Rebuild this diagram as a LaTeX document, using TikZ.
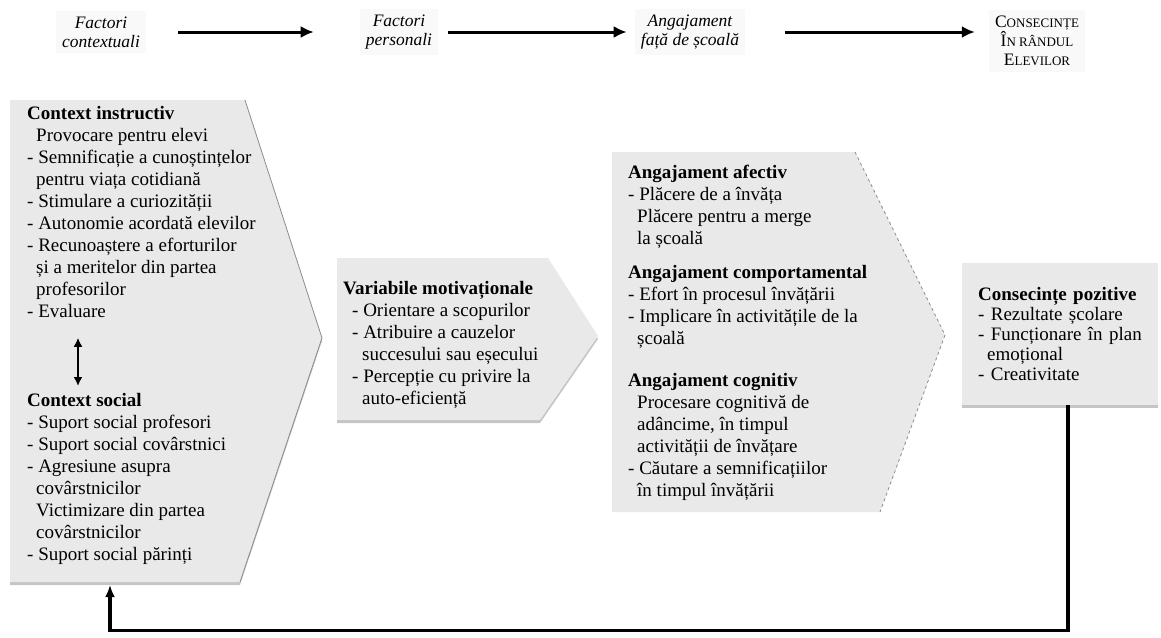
\documentclass[tikz,border=0pt]{standalone}
\usepackage{fontspec}
\setmainfont{Liberation Serif}
\usetikzlibrary{arrows.meta,positioning,shadows,calc}
\definecolor{panelgray}{RGB}{233,233,233}
\definecolor{edgegray}{RGB}{140,140,140}
\definecolor{labelgray}{RGB}{249,249,249}
\newcommand{\ind}{\hspace*{9pt}}
\newcommand{\capsc}[2]{#1{\fontsize{13}{15}\selectfont #2}}

\begin{document}
\begin{tikzpicture}[x=1pt, y=-1pt,
  panel/.style={fill=panelgray, drop shadow={shadow xshift=0pt, shadow yshift=-3pt, fill=edgegray}},
  boxtext/.style={align=left, anchor=north west, inner sep=0pt, font=\fontsize{19}{22}\selectfont},
  headlabel/.style={align=center, fill=labelgray, inner sep=6pt, font=\fontsize{17.5}{19}\selectfont\itshape},
  flow/.style={line width=3pt, -{Latex[length=13pt,width=12pt]}},
  twoway/.style={line width=2pt, {Latex[length=9pt,width=9pt]}-{Latex[length=9pt,width=9pt]}},
  feedback/.style={line width=3.5pt, -{Latex[length=12pt,width=10pt]}}]

\useasboundingbox (0,0) rectangle (1161,637);

% HEADINGS

\node[headlabel] (factctx) at (101,32) {Factori\\contextuali};
\node[headlabel] (factpers) at (399,32) {Factori\\personali};
\node[headlabel] (angaj) at (690,32) {Angajament\\față de școală};
\node[headlabel, font=\fontsize{17.5}{19}\selectfont] (conseq) at (1037,41) {\capsc{C}{ONSECINȚE}\\\capsc{Î}{N RÂNDUL}\\\capsc{E}{LEVILOR}};

\draw[flow, shorten <=32pt, shorten >=46pt] (factctx.east) -- (factpers.west);
\draw[flow, shorten <=10pt, shorten >=8pt] (factpers.east) -- (angaj.west);
\draw[flow, shorten <=40pt, shorten >=14pt] (angaj.east) -- (angaj.east -| conseq.west);

% PANELS

\path[panel] (10,100) -- (245,100) -- (322,338) -- (240,582) -- (10,582) -- cycle;
\draw[edgegray, line width=0.8pt] (245,100) -- (322,338) -- (240,582);

\path[panel] (337,258) -- (548,258) -- (598,336) -- (540,420) -- (337,420) -- cycle;

\path[fill=panelgray] (612,152) -- (855,152) -- (945,335) -- (880,512) -- (612,512) -- cycle;
\draw[edgegray, dashed, line width=0.8pt] (855,152) -- (945,335) -- (880,512);

% TEXTS

\node[boxtext] (instr) at (27,106) {\textbf{Context instructiv}\\
\ind Provocare pentru elevi\\
- Semnificație a cunoștințelor\\
\ind pentru viața cotidiană\\
- Stimulare a curiozității\\
- Autonomie acordată elevilor\\
- Recunoaștere a eforturilor\\
\ind și a meritelor din partea\\
\ind profesorilor\\
- Evaluare};

\node[boxtext] (social) at (27,393) {\textbf{Context social}\\
- Suport social profesori\\
- Suport social covârstnici\\
- Agresiune asupra\\
\ind covârstnicilor\\
\ind Victimizare din partea\\
\ind covârstnicilor\\
- Suport social părinți};

\draw[twoway] ([xshift=51pt, yshift=-20pt]instr.south west) -- ([xshift=51pt, yshift=7pt]social.north west);

\node[boxtext] (motiv) at (343,281) {\textbf{Variabile motivaționale}\\
\ind - Orientare a scopurilor\\
\ind - Atribuire a cauzelor\\
\hspace*{19pt}succesului sau eșecului\\
\ind - Percepție cu privire la\\
\hspace*{19pt}auto-eficiență};

\node[boxtext] (angajbox) at (628,165) {\textbf{Angajament afectiv}\\
- Plăcere de a învăța\\
\ind Plăcere pentru a merge\\
\ind la școală\\[12pt]
\textbf{Angajament comportamental}\\
- Efort în procesul învățării\\
- Implicare în activitățile de la\\
\ind școală\\[20pt]
\textbf{Angajament cognitiv}\\
\ind Procesare cognitivă de\\
\ind adâncime, în timpul\\
\ind activității de învățare\\
- Căutare a semnificațiilor\\
\ind în timpul învățării};

\node[panel, align=left, anchor=north west, inner xsep=16pt, text width=164pt, minimum height=142pt, font=\fontsize{19}{20}\selectfont] (pozitive) at (962,263) {\textbf{Consecințe pozitive}\\
- Rezultate școlare\\
- Funcționare în plan\\
\ind emoțional\\
- Creativitate};

% FEEDBACK

\coordinate (ctxfoot) at (110,585);
\draw[feedback] ([xshift=8pt]pozitive.south) -- ++(0,225) -| (ctxfoot);

\end{tikzpicture}
\end{document}
